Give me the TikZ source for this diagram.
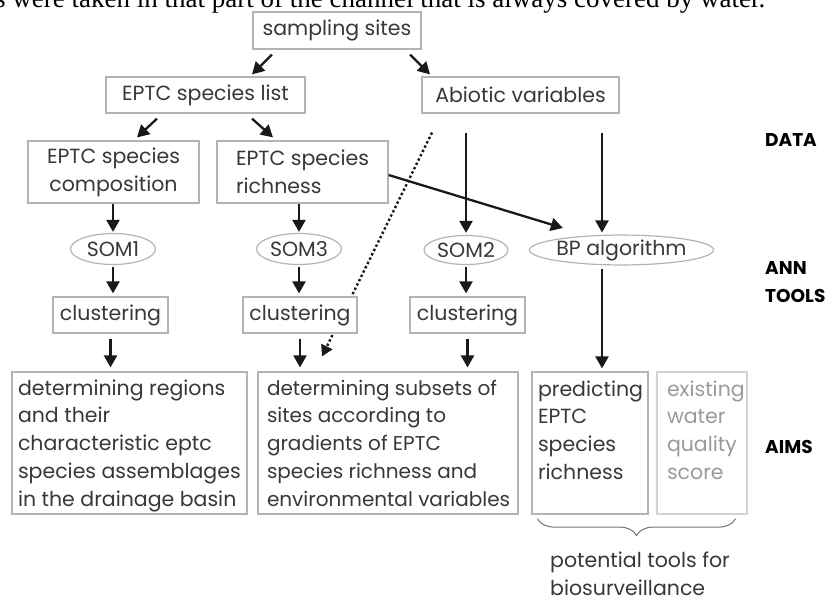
\documentclass[tikz,border=0pt]{standalone}
\usepackage{fontspec}
\setmainfont{Poppins}
\newfontfamily\serifnote{Liberation Serif}
\usetikzlibrary{arrows.meta,calc,decorations.pathreplacing,shapes.geometric}
\definecolor{boxgray}{HTML}{B4B4B4}
\definecolor{txtgray}{HTML}{383838}
\definecolor{lightbox}{HTML}{D2D2D2}
\definecolor{lighttxt}{HTML}{9A9A9A}
\pgfdeclarelayer{background}
\pgfsetlayers{background,main}
\begin{document}
\begin{tikzpicture}[x=1pt,y=-1pt,
  every node/.style={font=\fontsize{20.5}{27.8}\selectfont, text=txtgray},
  gbox/.style={draw=boxgray,line width=1.2pt,fill=white,inner sep=0pt,rectangle},
  gell/.style={draw=boxgray,line width=1.2pt,fill=white,ellipse,inner sep=0pt},
  arr/.style={line width=2.3pt,draw=black!90,-{Triangle[width=13pt,length=12pt]}},
  sidelabel/.style={font=\bfseries\fontsize{18.5}{28}\selectfont,text=black,align=left,anchor=west,inner sep=0pt}]
\useasboundingbox (0,0) rectangle (835,599);
\clip (0,0) rectangle (835,599);
\begin{pgfonlayer}{background}
\fill[white] (0,0) rectangle (835,599);
\end{pgfonlayer}

% clipped caption line at the top
\node[anchor=base west, font=\serifnote\fontsize{27}{30}\selectfont, text=black, inner sep=0pt] (cap) at (-5,8) {s were taken in that part of the channel that is always covered by water.};

% DATA row
\node[gbox, minimum width=168pt, minimum height=37pt] (ss) at (337,30.5) {sampling sites};
\node[gbox, minimum width=199pt, minimum height=36pt] (list) at (205.5,95) {EPTC species list};
\node[gbox, minimum width=197pt, minimum height=36pt] (abio) at (520.5,95) {Abiotic variables};
\node[gbox, minimum width=171pt, minimum height=62pt, align=center] (comp) at (113.5,172) {EPTC species\\composition};
\node[gbox, minimum width=171pt, minimum height=62pt, align=left] (rich) at (302.5,172) {EPTC species\\richness};

% ANN tools row
\node[gell, minimum width=85pt, minimum height=31pt] (som1) at (113,249) {SOM1};
\node[gell, minimum width=85pt, minimum height=31pt] (som3) at (299,249) {SOM3};
\node[gell, minimum width=84pt, minimum height=29pt] (som2) at (466,250) {SOM2};
\node[gell, minimum width=167pt, minimum height=29pt] (bp) at (621.5,250) {BP algorithm};

\node[gbox, minimum width=115pt, minimum height=36pt] (cl1) at (110.5,315) {clustering};
\node[gbox, minimum width=114pt, minimum height=36pt] (cl3) at (300,315) {clustering};
\node[gbox, minimum width=115pt, minimum height=36pt] (cl2) at (467.5,315) {clustering};

% AIMS row
\node[gbox, inner xsep=6pt, minimum width=235pt, minimum height=142pt] (aim1) at (129.5,443)
  {\parbox[c][142pt][t]{223pt}{\raggedright\rule{0pt}{23pt}determining regions\\and their\\characteristic eptc\\\mbox{species assemblages}\\\mbox{in the drainage basin}}};
\node[gbox, inner xsep=9pt, minimum width=260pt, minimum height=142pt, font=\fontsize{20}{27.8}\selectfont] (aim2) at (388,443)
  {\parbox[c][142pt][t]{242pt}{\raggedright\rule{0pt}{23pt}determining subsets of\\sites according to\\gradients of EPTC\\\mbox{species richness and}\\\mbox{environmental variables}}};
\node[gbox, inner xsep=6pt, minimum width=116pt, minimum height=142pt] (pred) at (590,443)
  {\parbox[c][142pt][t]{104pt}{\raggedright\rule{0pt}{24pt}predicting\\EPTC\\species\\richness}};
\node[gbox, draw=lightbox, inner xsep=10pt, minimum width=90pt, minimum height=142pt] (exist) at (702,443)
  {\parbox[c][142pt][t]{70pt}{\raggedright\color{lighttxt}\rule{0pt}{24pt}existing\\water\\quality\\score}};

% brace and its caption
\coordinate (brL) at ($(pred.south west)+(6,4)$);
\coordinate (brR) at ($(exist.south east)+(-12,4)$);
\draw[decorate, decoration={brace, mirror, amplitude=17pt}, draw=black!55, line width=1pt] (brL) -- (brR);
\node[anchor=north west, align=left, inner sep=0pt] (pot) at (550,552) {potential tools for\\biosurveillance};

% side labels
\node[sidelabel] (data) at (765,140) {DATA};
\node[sidelabel] (ann) at (765,282) {ANN\\TOOLS};
\node[sidelabel] (aims) at (765,447) {AIMS};

% connectors
\draw[arr] ($(ss.south)+(-65,5)$) -- ($(list.north)+(46.5,-2)$);
\draw[arr] ($(ss.south)+(73,5)$) -- ($(abio.north)+(-90.5,-2)$);
\draw[arr] ($(list.south)+(-48.5,5)$) -- ($(comp.north)+(23.5,-3)$);
\draw[arr] ($(list.south)+(46.5,5)$) -- ($(rich.north)+(-29.5,-3)$);
\draw[arr, shorten >=1pt] (som1.north |- comp.south) -- (som1.north);
\draw[arr, shorten >=1pt] (som3.north |- rich.south) -- (som3.north);
\draw[arr, shorten >=2pt] ($(abio.south -| som2.north)+(0,19)$) -- (som2.north);
\draw[arr] ($(abio.south)+(81.5,19)$) -- ($(bp.north)+(-19.5,-2)$);
\coordinate (bpin) at ($(bp.west)+(34,-22)$);
\draw[arr] ($(rich.east)+(0,3)$) -- (bpin);
\draw[arr, shorten <=1.5pt, shorten >=3pt] (som1.south) -- (som1.south |- cl1.north);
\draw[arr, shorten <=1.5pt, shorten >=3pt] (som3.south) -- (som3.south |- cl3.north);
\draw[arr, shorten <=1.5pt, shorten >=3pt] (som2.south) -- (som2.south |- cl2.north);
\draw[arr, shorten >=4pt] ($(cl1.south)+(0,5)$) -- (cl1.south |- aim1.north);
\draw[arr, shorten >=4pt] ($(cl3.south)+(0,5)$) -- (cl3.south |- aim2.north);
\draw[arr, shorten >=4pt] ($(cl2.south)+(0,5)$) -- (cl2.south |- aim2.north);
\draw[arr] ($(bp.south)+(-19.5,3)$) -- ($(bp.south |- pred.north)+(-19.5,-3)$);

% dotted connector, hidden behind the clustering box
\coordinate (dotS) at ($(abio.south)+(-88.5,19)$);
\coordinate (dotE) at ($(aim2.north)+(-66,-15)$);
\begin{pgfonlayer}{background}
\draw[line width=2.4pt, dash pattern=on 2.4pt off 2.4pt, draw=black!90, -{Triangle[width=12pt,length=11pt]}] (dotS) -- (dotE);
\end{pgfonlayer}
\end{tikzpicture}
\end{document}
